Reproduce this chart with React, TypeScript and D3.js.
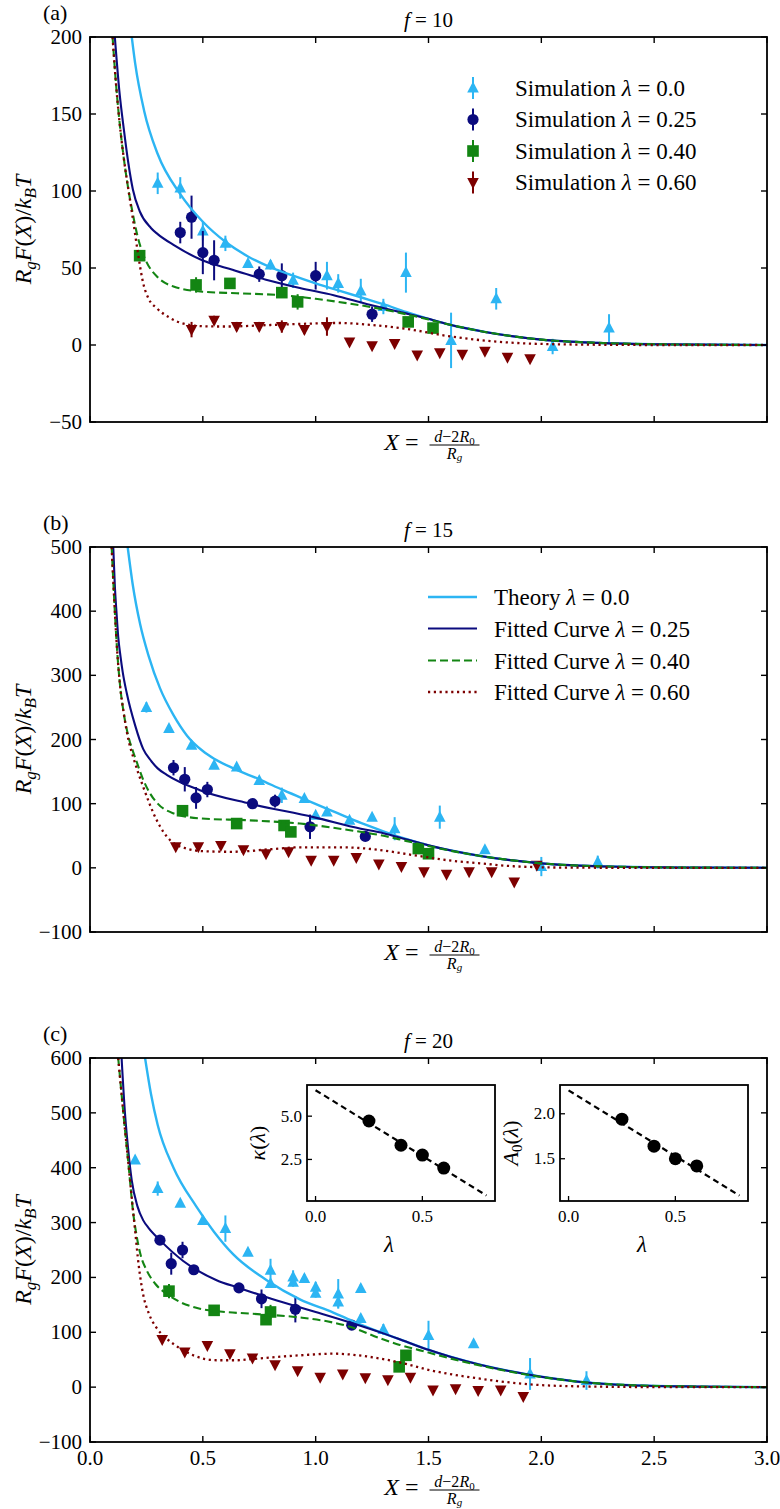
import React from "react";
import * as d3 from "d3";

// ---- data: [X, value, error] for simulations, [X, value] for curves ----

const xTicks = [0, 0.5, 1, 1.5, 2, 2.5, 3];
const xTickLabels = ["0.0", "0.5", "1.0", "1.5", "2.0", "2.5", "3.0"];
const yTicksA = [-50, 0, 50, 100, 150, 200];
const yTicksB = [-100, 0, 100, 200, 300, 400, 500];
const yTicksC = [-100, 0, 100, 200, 300, 400, 500, 600];
const lambdaLabels = ["0.0", "0.25", "0.40", "0.60"];

// panel (a) f = 10
const simA0 = [[0.3, 105, 7], [0.4, 102, 7], [0.5, 74, 6], [0.6, 66, 5], [0.7, 53, 3], [0.8, 52, 3], [0.9, 42, 5], [1.05, 45, 9], [1.1, 40, 6], [1.2, 35, 8], [1.3, 25, 5], [1.4, 47, 13], [1.6, 3, 18], [1.8, 30, 7], [2.05, -1, 5], [2.3, 11, 9]];
const simA1 = [[0.4, 73, 7], [0.45, 83, 14], [0.5, 60, 14], [0.55, 55, 13], [0.75, 46, 5], [0.85, 45, 8], [1.0, 45, 9], [1.25, 20, 5]];
const simA2 = [[0.22, 58, 3], [0.47, 39, 5], [0.62, 40, 3], [0.85, 34, 3], [0.92, 28, 5], [1.41, 15, 3], [1.52, 11, 3]];
const simA3 = [[0.45, 10, 5], [0.55, 16, 3], [0.65, 12, 3], [0.75, 12, 3], [0.85, 12, 4], [0.95, 10, 3], [1.05, 12, 6], [1.15, 2, 2], [1.25, -0.5, 2], [1.35, 1, 2], [1.45, -6.5, 2], [1.55, -5, 2], [1.65, -6, 2], [1.75, -4, 2], [1.85, -8, 2], [1.95, -9, 2]];
const curveA0 = [[0.185, 200], [0.2, 183], [0.24, 152], [0.3, 124], [0.4, 98], [0.5, 80], [0.6, 67], [0.7, 57.5], [0.8, 50.5], [0.9, 45], [1.0, 40], [1.1, 35.5], [1.2, 31], [1.3, 26.5], [1.4, 21.5], [1.5, 17], [1.6, 13], [1.75, 8.5], [2.0, 3.5], [2.25, 1.4], [2.5, 0.5], [3.0, 0]];
const curveA1 = [[0.11, 200], [0.13, 165], [0.15, 140], [0.17, 118], [0.19, 101], [0.22, 87], [0.27, 76], [0.3, 72], [0.37, 65], [0.49, 55.5], [0.635, 48.7], [0.78, 42.4], [0.93, 37], [1.08, 32.3], [1.23, 26.5], [1.37, 21.5], [1.5, 17], [1.6, 13], [1.75, 8.5], [2.0, 3.5], [2.25, 1.4], [2.5, 0.5], [3.0, 0]];
const curveA2 = [[0.1, 200], [0.115, 170], [0.13, 146], [0.15, 121], [0.17, 101], [0.19, 85], [0.21, 71], [0.23, 61], [0.25, 54], [0.3, 44], [0.37, 38], [0.5, 34.6], [0.65, 33.6], [0.85, 32.3], [1.0, 30], [1.1, 28], [1.25, 24.5], [1.4, 20], [1.5, 16.5], [1.6, 13], [1.75, 8.5], [2.0, 3.5], [2.25, 1.4], [2.5, 0.5], [3.0, 0]];
const curveA3 = [[0.1, 200], [0.115, 170], [0.13, 146], [0.15, 121], [0.17, 101], [0.19, 82], [0.21, 62], [0.236, 40], [0.26, 30], [0.295, 24], [0.35, 18], [0.4, 14.5], [0.5, 12.2], [0.6, 12], [0.8, 13], [1.0, 14], [1.1, 14.3], [1.25, 13], [1.4, 10.5], [1.6, 5.5], [1.8, 2.2], [2.1, 0.4], [2.5, 0], [3.0, 0]];

// panel (b) f = 15
const simB0 = [[0.25, 250, 8], [0.35, 217, 4], [0.45, 191, 5], [0.55, 160, 4], [0.65, 157, 4], [0.75, 136, 4], [0.85, 113, 12], [0.95, 108, 5], [1.0, 82, 5], [1.05, 87, 5], [1.15, 74, 5], [1.25, 79, 4], [1.35, 61, 18], [1.55, 79, 18], [1.75, 28, 6], [2.0, 2, 15], [2.25, 9, 10]];
const simB1 = [[0.37, 156, 12], [0.42, 138, 19], [0.47, 109, 17], [0.52, 122, 12], [0.72, 100, 4], [0.82, 104, 10], [0.975, 64, 19], [1.22, 49, 4]];
const simB2 = [[0.41, 89, 5], [0.65, 69, 4], [0.86, 66, 5], [0.89, 56, 4], [1.455, 30, 4], [1.5, 22, 4]];
const simB3 = [[0.38, 33, 4], [0.48, 33, 3], [0.58, 35, 3], [0.68, 28, 3], [0.78, 22, 3], [0.88, 25, 3], [0.98, 12, 3], [1.08, 12, 3], [1.18, 16, 3], [1.28, 6, 3], [1.38, 2, 3], [1.48, -6, 3], [1.58, -10, 3], [1.68, -6, 3], [1.78, -6, 3], [1.88, -22, 3], [1.98, 4, 3]];
const curveB0 = [[0.167, 500], [0.19, 440], [0.222, 380], [0.26, 330], [0.31, 280], [0.37, 238], [0.43, 206], [0.5, 182], [0.55, 170], [0.635, 155], [0.75, 138], [0.857, 121], [0.97, 104], [1.078, 88], [1.2, 70], [1.3, 57], [1.4, 45], [1.5, 35], [1.6, 27], [1.73, 18.5], [2.0, 7], [2.3, 2], [2.6, 0.6], [3.0, 0]];
const curveB1 = [[0.103, 500], [0.11, 440], [0.118, 395], [0.125, 360], [0.135, 330], [0.145, 305], [0.163, 272], [0.2, 222], [0.236, 185], [0.27, 167], [0.3, 155], [0.34, 145], [0.487, 121], [0.709, 100], [0.99, 79], [1.2, 61], [1.3, 54], [1.4, 44.5], [1.5, 35], [1.6, 27], [1.73, 18.5], [2.0, 7], [2.3, 2], [2.6, 0.6], [3.0, 0]];
const curveB2 = [[0.096, 500], [0.11, 400], [0.12, 340], [0.133, 285], [0.15, 240], [0.17, 205], [0.19, 182], [0.207, 165], [0.235, 138], [0.266, 116], [0.3, 100], [0.369, 85], [0.487, 77], [0.709, 74], [0.93, 69], [1.152, 58.6], [1.3, 50], [1.4, 42], [1.5, 34], [1.6, 26.5], [1.73, 18.5], [2.0, 7], [2.3, 2], [2.6, 0.6], [3.0, 0]];
const curveB3 = [[0.096, 500], [0.11, 400], [0.12, 340], [0.133, 285], [0.15, 240], [0.17, 200], [0.192, 172], [0.236, 126], [0.296, 74], [0.355, 43], [0.428, 30], [0.5, 26], [0.635, 25], [0.8, 29], [0.93, 32], [1.1, 32], [1.226, 30], [1.3, 27], [1.43, 20], [1.58, 12], [1.728, 7], [1.876, 2.5], [2.1, 0.4], [2.5, 0], [3.0, 0]];

// panel (c) f = 20
const simC0 = [[0.2, 414, 5], [0.3, 362, 13], [0.4, 335, 5], [0.5, 304, 5], [0.6, 289, 24], [0.7, 246, 5], [0.8, 213, 21], [0.8, 189, 5], [0.9, 201, 12], [0.9, 191, 8], [0.95, 198, 8], [1.0, 182, 10], [1.0, 171, 8], [1.1, 170, 27], [1.1, 155, 10], [1.2, 180, 8], [1.2, 125, 8], [1.3, 105, 10], [1.5, 94, 27], [1.7, 79, 5], [1.95, 24, 29], [2.2, 12, 17]];
const simC1 = [[0.31, 268, 5], [0.36, 225, 20], [0.41, 250, 15], [0.46, 214, 5], [0.66, 181, 5], [0.76, 161, 17], [0.91, 142, 24], [1.16, 113, 5]];
const simC2 = [[0.35, 175, 13], [0.55, 140, 5], [0.78, 123, 5], [0.8, 137, 13], [1.37, 37, 5], [1.4, 58, 5]];
const simC3 = [[0.32, 87, 4], [0.42, 64, 4], [0.52, 76, 4], [0.62, 61, 4], [0.72, 53, 4], [0.82, 41, 4], [0.92, 30, 4], [1.02, 18, 4], [1.12, 24, 4], [1.22, 17, 4], [1.32, 13.5, 4], [1.42, 18, 4], [1.52, -5, 4], [1.62, -3, 4], [1.72, -6, 4], [1.82, -5, 4], [1.92, -17, 4]];
const curveC0 = [[0.244, 600], [0.27, 535], [0.3, 478], [0.37, 400], [0.47, 330], [0.55, 283], [0.635, 242], [0.783, 195], [0.93, 160], [1.078, 136], [1.16, 121], [1.3, 98], [1.4, 83], [1.5, 68], [1.6, 55], [1.728, 41], [1.85, 30], [2.0, 19], [2.2, 8.5], [2.4, 3.5], [2.7, 1], [3.0, 0]];
const curveC1 = [[0.14, 600], [0.155, 499], [0.17, 430], [0.185, 377], [0.21, 330], [0.236, 304], [0.26, 290], [0.31, 268], [0.413, 230], [0.561, 195], [0.66, 181], [0.783, 164], [0.91, 148], [1.0, 137], [1.16, 117], [1.3, 98], [1.4, 83], [1.5, 68], [1.6, 55], [1.728, 41], [1.85, 30], [2.0, 19], [2.2, 8.5], [2.4, 3.5], [2.7, 1], [3.0, 0]];
const curveC2 = [[0.125, 600], [0.148, 499], [0.17, 408], [0.192, 316], [0.207, 275], [0.225, 240], [0.251, 213], [0.29, 188], [0.34, 170], [0.4, 155], [0.487, 143], [0.6, 137], [0.709, 134], [0.93, 127], [1.05, 120], [1.152, 110], [1.285, 89], [1.373, 77], [1.5, 63], [1.6, 52], [1.728, 39.5], [1.85, 29], [2.0, 18.5], [2.2, 8.5], [2.4, 3.5], [2.7, 1], [3.0, 0]];
const curveC3 = [[0.125, 600], [0.148, 499], [0.17, 408], [0.19, 325], [0.2, 285], [0.215, 225], [0.236, 168], [0.26, 135], [0.295, 108], [0.33, 92], [0.369, 79], [0.458, 58], [0.561, 49], [0.65, 49], [0.709, 51], [0.93, 58], [1.078, 61], [1.226, 56], [1.3, 51], [1.373, 45], [1.506, 31], [1.728, 15.5], [1.95, 5], [2.2, 1.2], [2.6, 0], [3.0, 0]];

// insets of panel (c)
const lambdaPts = [0.25, 0.4, 0.5, 0.6];
const kappaVals = [4.72, 3.32, 2.75, 2.0];
const a0Vals = [1.94, 1.64, 1.5, 1.42];
const kappaFit = [[0, 6.5], [0.8, 0.42]];
const a0Fit = [[0, 2.26], [0.8, 1.09]];

// ---- styling ----
const FONT = '"Liberation Serif", "Times New Roman", Tinos, "DejaVu Serif", "Noto Serif", serif';
const colors = ["#2cb5f3", "#0b0b7e", "#138513", "#7d0000"];
const dashes = [undefined, undefined, "8,4", "2.2,3.6"];
const widths = [2.4, 2.1, 2.1, 2.3];

const LEFT = 90;
const RIGHT = 767;

function marker(kind: number, cx: number, cy: number, color: string, key: any) {
  if (kind === 1) return <circle key={key} cx={cx} cy={cy} r={5.6} fill={color} />;
  if (kind === 2) return <rect key={key} x={cx - 5.8} y={cy - 5.8} width={11.6} height={11.6} fill={color} />;
  if (kind === 0)
    return <path key={key} d={`M${cx},${cy - 6.5}L${cx + 5.8},${cy + 4.5}L${cx - 5.8},${cy + 4.5}Z`} fill={color} />;
  return <path key={key} d={`M${cx},${cy + 6.5}L${cx + 5.8},${cy - 4.5}L${cx - 5.8},${cy - 4.5}Z`} fill={color} />;
}

function XLabel({ cx, base }: { cx: number; base: number }) {
  const bar = base - 5;
  return (
    <g>
      <text x={cx - 10} y={base} fontSize={24} textAnchor="end">
        <tspan fontStyle="italic">X</tspan> =
      </text>
      <text x={cx + 26} y={bar - 3.5} fontSize={16} textAnchor="middle">
        <tspan fontStyle="italic">d</tspan>−2<tspan fontStyle="italic">R</tspan>
        <tspan fontSize={11} dy={3}>0</tspan>
      </text>
      <line x1={cx + 1} x2={cx + 51} y1={bar} y2={bar} stroke="#000" strokeWidth={1} />
      <text x={cx + 26} y={bar + 13.5} fontSize={16} textAnchor="middle">
        <tspan fontStyle="italic">R</tspan>
        <tspan fontSize={11} fontStyle="italic" dy={2.5}>g</tspan>
      </text>
    </g>
  );
}

function Panel(props: {
  id: string;
  top: number;
  bottom: number;
  yDomain: number[];
  yTicks: number[];
  sims: number[][][];
  curves: number[][][];
  f: string;
  tag: string;
  showX: boolean;
  children?: any;
}) {
  const { id, top, bottom, yDomain, yTicks, sims, curves, f, tag, showX } = props;
  const x = d3.scaleLinear().domain([0, 3]).range([LEFT, RIGHT]);
  const y = d3.scaleLinear().domain(yDomain).range([bottom, top]);
  const line = d3
    .line<number[]>()
    .x((d) => x(d[0]))
    .y((d) => y(d[1]))
    .curve(d3.curveMonotoneX);
  const cx = (LEFT + RIGHT) / 2;
  const cy = (top + bottom) / 2;
  const tl = 6;
  const fmt = (v: number) => (v < 0 ? "−" + Math.abs(v) : String(v));

  return (
    <g>
      <defs>
        <clipPath id={id}>
          <rect x={LEFT} y={top} width={RIGHT - LEFT} height={bottom - top} />
        </clipPath>
      </defs>
      <g clipPath={`url(#${id})`}>
        {sims.map((s, k) => (
          <g key={k}>
            {s.map((d, i) => (
              <line key={i} x1={x(d[0])} x2={x(d[0])} y1={y(d[1] - d[2])} y2={y(d[1] + d[2])} stroke={colors[k]} strokeWidth={2} />
            ))}
            {s.map((d, i) => marker(k, x(d[0]), y(d[1]), colors[k], i))}
          </g>
        ))}
        {curves.map((c, k) => (
          <path key={k} d={line(c) || ""} fill="none" stroke={colors[k]} strokeWidth={widths[k]} strokeDasharray={dashes[k]} />
        ))}
      </g>
      {/* frame and inward ticks */}
      <rect x={LEFT} y={top} width={RIGHT - LEFT} height={bottom - top} fill="none" stroke="#000" strokeWidth={1.8} />
      {xTicks.map((t, i) => (
        <g key={i} stroke="#000" strokeWidth={1.4}>
          <line x1={x(t)} x2={x(t)} y1={bottom} y2={bottom - tl} />
          <line x1={x(t)} x2={x(t)} y1={top} y2={top + tl} />
        </g>
      ))}
      {yTicks.map((t, i) => (
        <g key={i}>
          <line x1={LEFT} x2={LEFT + tl} y1={y(t)} y2={y(t)} stroke="#000" strokeWidth={1.4} />
          <line x1={RIGHT} x2={RIGHT - tl} y1={y(t)} y2={y(t)} stroke="#000" strokeWidth={1.4} />
          <text x={82} y={y(t) + 7} fontSize={21} textAnchor="end">
            {fmt(t)}
          </text>
        </g>
      ))}
      {showX &&
        xTicks.map((t, i) => (
          <text key={i} x={x(t)} y={bottom + 23} fontSize={21} textAnchor="middle">
            {xTickLabels[i]}
          </text>
        ))}
      <text x={43} y={top - 17} fontSize={22}>
        {tag}
      </text>
      <text x={cx} y={top - 10} fontSize={21} textAnchor="middle">
        <tspan fontStyle="italic">f</tspan> = {f}
      </text>
      <text transform={`translate(31,${cy}) rotate(-90)`} fontSize={24} textAnchor="middle">
        <tspan fontStyle="italic">R</tspan>
        <tspan fontStyle="italic" fontSize={17} dy={5}>g</tspan>
        <tspan fontStyle="italic" dy={-5}>F</tspan>(<tspan fontStyle="italic">X</tspan>)/<tspan fontStyle="italic">k</tspan>
        <tspan fontStyle="italic" fontSize={17} dy={5}>B</tspan>
        <tspan fontStyle="italic" dy={-5}>T</tspan>
      </text>
      <XLabel cx={cx} base={showX ? bottom + 53 : bottom + 28} />
      {props.children}
    </g>
  );
}

function SimLegend() {
  const rows = [88, 119.5, 151, 182.5];
  return (
    <g>
      {rows.map((ry, k) => (
        <g key={k}>
          <line x1={473} x2={473} y1={ry - 11} y2={ry + 11} stroke={colors[k]} strokeWidth={2} />
          {marker(k, 473, ry, colors[k], "m")}
          <text x={515} y={ry + 7.5} fontSize={23}>
            Simulation <tspan fontStyle="italic">λ</tspan> = {lambdaLabels[k]}
          </text>
        </g>
      ))}
    </g>
  );
}

function CurveLegend() {
  const rows = [597, 628.5, 660.5, 692];
  const names = ["Theory", "Fitted Curve", "Fitted Curve", "Fitted Curve"];
  return (
    <g>
      {rows.map((ry, k) => (
        <g key={k}>
          <line x1={428} x2={477} y1={ry} y2={ry} stroke={colors[k]} strokeWidth={widths[k]} strokeDasharray={dashes[k]} />
          <text x={494} y={ry + 8} fontSize={23}>
            {names[k]} <tspan fontStyle="italic">λ</tspan> = {lambdaLabels[k]}
          </text>
        </g>
      ))}
    </g>
  );
}

function Inset(props: { left: number; vals: number[]; fit: number[][]; yDomain: number[]; yTicks: number[]; yLabels: string[]; kind: string }) {
  const { left, vals, fit, yDomain, yTicks, yLabels, kind } = props;
  const top = 1085;
  const w = 188;
  const h = 116;
  const x = d3.scaleLinear().domain([-0.04, 0.84]).range([left, left + w]);
  const y = d3.scaleLinear().domain(yDomain).range([top + h, top]);
  const line = d3
    .line<number[]>()
    .x((d) => x(d[0]))
    .y((d) => y(d[1]));
  return (
    <g>
      <rect x={left} y={top} width={w} height={h} fill="#fff" stroke="#000" strokeWidth={1.8} />
      <path d={line(fit) || ""} stroke="#000" strokeWidth={2.2} strokeDasharray="6,4" fill="none" />
      {lambdaPts.map((l, i) => (
        <circle key={i} cx={x(l)} cy={y(vals[i])} r={6.5} fill="#000" />
      ))}
      {[0, 0.5].map((t, i) => (
        <g key={i}>
          <line x1={x(t)} x2={x(t)} y1={top + h} y2={top + h - 5} stroke="#000" strokeWidth={1.3} />
          <text x={x(t)} y={top + h + 21} fontSize={17} textAnchor="middle">
            {t.toFixed(1)}
          </text>
        </g>
      ))}
      {yTicks.map((t, i) => (
        <g key={i}>
          <line x1={left} x2={left + 5} y1={y(t)} y2={y(t)} stroke="#000" strokeWidth={1.3} />
          <text x={left - 5} y={y(t) + 5.5} fontSize={17} textAnchor="end">
            {yLabels[i]}
          </text>
        </g>
      ))}
      <text x={left + w / 2 - 12} y={1252} fontSize={23} fontStyle="italic" textAnchor="middle">
        λ
      </text>
      {kind === "k" ? (
        <text transform={`translate(${left - 42},${top + h / 2}) rotate(-90)`} fontSize={22} textAnchor="middle">
          <tspan fontStyle="italic">κ</tspan>(<tspan fontStyle="italic">λ</tspan>)
        </text>
      ) : (
        <text transform={`translate(${left - 42},${top + h / 2}) rotate(-90)`} fontSize={22} textAnchor="middle">
          <tspan fontStyle="italic">A</tspan>
          <tspan fontSize={15} dy={4}>0</tspan>
          <tspan dy={-4}>(</tspan>
          <tspan fontStyle="italic">λ</tspan>)
        </text>
      )}
    </g>
  );
}

export default function App() {
  return (
    <svg width={780} height={1509} style={{ position: "absolute", left: 0, top: 0, background: "#fff", fontFamily: FONT }}>
      <rect width={780} height={1509} fill="#fff" />
      <Panel id="pa" top={37} bottom={422} yDomain={[-50, 200]} yTicks={yTicksA} sims={[simA0, simA1, simA2, simA3]} curves={[curveA0, curveA1, curveA2, curveA3]} f="10" tag="(a)" showX={false}>
        <SimLegend />
      </Panel>
      <Panel id="pb" top={547} bottom={932} yDomain={[-100, 500]} yTicks={yTicksB} sims={[simB0, simB1, simB2, simB3]} curves={[curveB0, curveB1, curveB2, curveB3]} f="15" tag="(b)" showX={false}>
        <CurveLegend />
      </Panel>
      <Panel id="pc" top={1058} bottom={1442} yDomain={[-100, 600]} yTicks={yTicksC} sims={[simC0, simC1, simC2, simC3]} curves={[curveC0, curveC1, curveC2, curveC3]} f="20" tag="(c)" showX={true}>
        <Inset left={307} vals={kappaVals} fit={kappaFit} yDomain={[0.1, 6.8]} yTicks={[2.5, 5]} yLabels={["2.5", "5.0"]} kind="k" />
        <Inset left={560} vals={a0Vals} fit={a0Fit} yDomain={[1.03, 2.32]} yTicks={[1.5, 2]} yLabels={["1.5", "2.0"]} kind="a" />
      </Panel>
    </svg>
  );
}
